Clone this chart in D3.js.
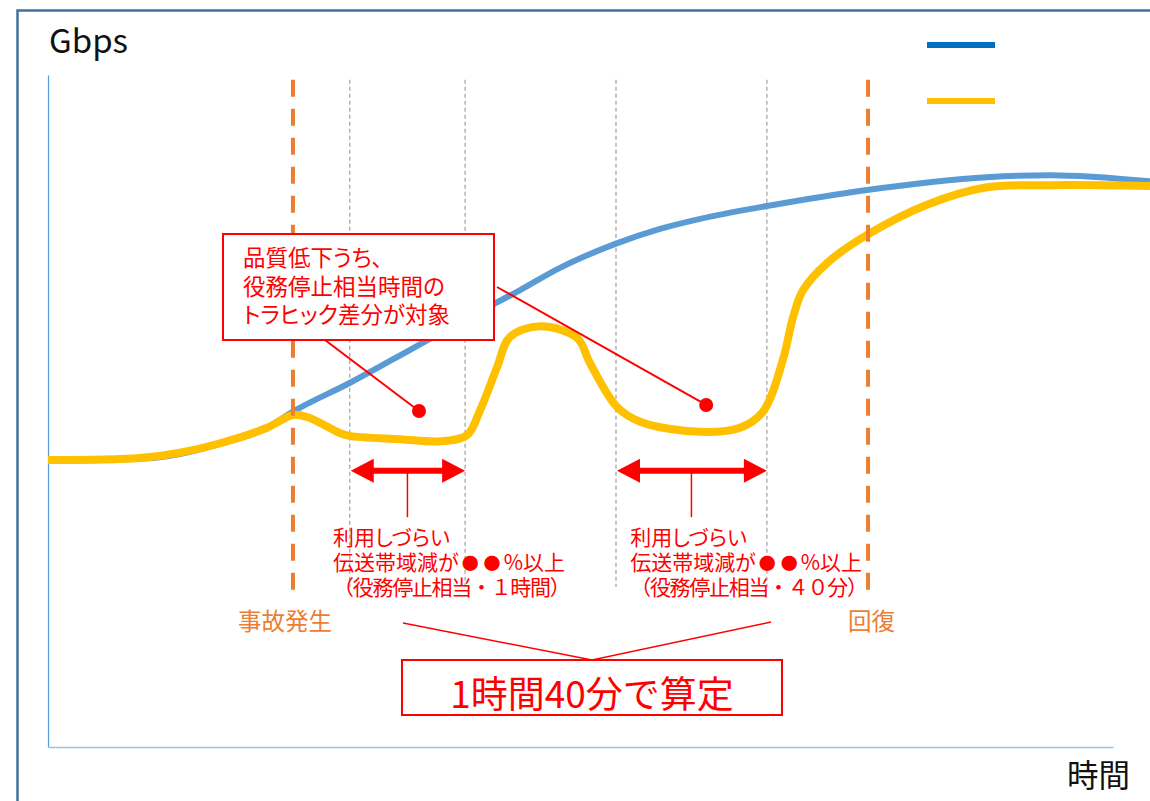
<!DOCTYPE html>
<html><head><meta charset="utf-8">
<script src="https://cdn.jsdelivr.net/npm/d3@7"></script>
<style>
html,body{margin:0;padding:0;background:#fff;}
svg{display:block;}
text{font-family:"Noto Sans CJK JP","Noto Sans",sans-serif;}
.palt{font-feature-settings:"palt";}
</style></head><body>
<svg id="chart" width="1150" height="801"></svg>
<script>
// Expected traffic without the incident (blue) – time in arbitrary units, Gbps relative
const expectedTime = [0, 25.9, 37.2, 48.5, 61.7, 69, 85.1, 102, 118, 133, 144.2, 160, 172.4, 183.7, 202.5, 230.7, 264.5, 282.3, 310.4];
const expectedGbps = [42.6, 42.9, 43.6, 45.1, 47.5, 49.9, 54.2, 59.1, 63.8, 68.0, 71.3, 74.9, 77.1, 78.6, 80.5, 82.9, 84.8, 85.1, 84.2];

// Actual traffic during the incident (yellow)
const actualTime = [0, 25.9, 37.2, 48.5, 61.7, 69, 73, 82.3, 84.8, 99.2, 110.4, 118, 121.7, 126.5, 130.1, 138.6, 149, 152.7, 160.3, 166.8, 183.7, 194.9, 201.4, 207, 209.9, 212.7, 219.4, 230.7, 247.6, 264.5, 282.3, 310.4];
const actualGbps = [42.7, 43.0, 43.8, 45.2, 47.5, 49.4, 49.1, 46.7, 46.3, 45.8, 45.5, 46.4, 50.1, 56.5, 61.0, 62.6, 60.9, 57.1, 50.6, 48.4, 46.9, 47.5, 49.9, 57.6, 64.0, 68.0, 72.0, 76.2, 80.7, 83.3, 83.6, 83.5];

// Event times
const incidentTime = 69;
const recoveryTime = 231;
const degradedSpans = [[85, 117.5], [160, 202.5]];
const spanLabelTime = [80.3, 164];
const spanDurations = ["１時間", "４０分"];
const calloutDots = [[104.5, 50.0], [185.4, 50.9]];

const svg = d3.select("#chart");
const x = d3.scaleLinear().domain([0, 300]).range([48, 1113]);
const y = d3.scaleLinear().domain([0, 100]).range([747, 75]);

const RED = "#ff0000", ORANGE = "#ed7d31";

// outer frame
svg.append("rect").attr("x", 17.5).attr("y", 10.5).attr("width", 1200).attr("height", 900)
  .attr("fill", "none").attr("stroke", "#41719c").attr("stroke-width", 2.5);

// axes (lines only)
const yAxis = svg.append("g").attr("transform", `translate(${x(0)},0)`)
  .call(d3.axisLeft(y).tickValues([]).tickSizeOuter(0));
yAxis.select(".domain").attr("stroke", "#5b9bd5").attr("stroke-width", 1.2);
const xAxis = svg.append("g").attr("transform", `translate(0,${y(0)})`)
  .call(d3.axisBottom(x).tickValues([]).tickSizeOuter(0));
xAxis.select(".domain").attr("stroke", "#9dc3e6").attr("stroke-width", 1.5);

// grey boundaries of the degraded spans
const greyTop = 99.3, greyBottom = 23.8;
degradedSpans.flat().forEach(t => {
  svg.append("line").attr("x1", x(t)).attr("x2", x(t)).attr("y1", y(greyTop)).attr("y2", y(greyBottom))
    .attr("stroke", "#a6a6a6").attr("stroke-width", 1.3).attr("stroke-dasharray", "4,3");
});

// traffic curves
svg.append("path")
  .attr("d", d3.line().curve(d3.curveMonotoneX)(expectedTime.map((t, i) => [x(t), y(expectedGbps[i])])))
  .attr("fill", "none").attr("stroke", "#5b9bd5").attr("stroke-width", 6);
svg.append("path")
  .attr("d", d3.line().curve(d3.curveCatmullRom.alpha(0.5))(actualTime.map((t, i) => [x(t), y(actualGbps[i])])))
  .attr("fill", "none").attr("stroke", "#ffc000").attr("stroke-width", 8);

// incident / recovery markers
const orangeBottom = 23.4;
[incidentTime, recoveryTime].forEach(t => {
  svg.append("line").attr("x1", x(t)).attr("x2", x(t)).attr("y1", y(greyTop)).attr("y2", y(orangeBottom))
    .attr("stroke", ORANGE).attr("stroke-width", 4).attr("stroke-dasharray", "17,12");
});
svg.append("text").attr("x", x(incidentTime) - 55).attr("y", 630).attr("fill", ORANGE)
  .attr("font-size", 23.5).text("事故発生");
svg.append("text").attr("x", x(recoveryTime) - 20).attr("y", 630).attr("fill", ORANGE)
  .attr("font-size", 23.5).text("回復");

// legend swatches
svg.append("line").attr("x1", 927).attr("x2", 995).attr("y1", 45).attr("y2", 45)
  .attr("stroke", "#0070c0").attr("stroke-width", 6);
svg.append("line").attr("x1", 927).attr("x2", 995).attr("y1", 101).attr("y2", 101)
  .attr("stroke", "#ffc000").attr("stroke-width", 6);

// axis titles
svg.append("text").attr("x", 49).attr("y", 53).attr("font-family", "'Noto Sans',sans-serif")
  .attr("font-size", 33).attr("fill", "#111").text("Gbps");
svg.append("text").attr("x", 1067).attr("y", 787).attr("font-size", 31.5).attr("fill", "#111").text("時間");

// double-headed arrows over the degraded spans
const arrowGbps = 41.1, stemGbps = 34.2;
function doubleArrow(x0, x1, yy) {
  const hl = 23, hh = 12, sh = 3;
  return `M${x0},${yy} L${x0 + hl},${yy - hh} L${x0 + hl},${yy - sh} L${x1 - hl},${yy - sh} L${x1 - hl},${yy - hh}
          L${x1},${yy} L${x1 - hl},${yy + hh} L${x1 - hl},${yy + sh} L${x0 + hl},${yy + sh} L${x0 + hl},${yy + hh} Z`;
}
degradedSpans.forEach((s, i) => {
  const x0 = x(s[0]), x1 = x(s[1]), mid = (x0 + x1) / 2;
  svg.append("path").attr("d", doubleArrow(x0 + 1, x1, y(arrowGbps))).attr("fill", RED);
  svg.append("line").attr("x1", mid).attr("x2", mid).attr("y1", y(arrowGbps)).attr("y2", y(stemGbps))
    .attr("stroke", RED).attr("stroke-width", 1.5);
  const tx = x(spanLabelTime[i]);
  const g = svg.append("g").attr("fill", RED).attr("font-size", 21);
  g.append("text").attr("class", "palt").attr("x", tx).attr("y", 545).text("利用しづらい");
  const l2 = g.append("text").attr("class", "palt").attr("x", tx).attr("y", 570);
  l2.append("tspan").text("伝送帯域減が");
  l2.append("tspan").attr("font-size", 17).attr("dx", 3).attr("letter-spacing", 5).text("●●");
  l2.append("tspan").attr("dx", -2).text("%以上");
  g.append("text").attr("x", tx).attr("y", 595).attr("letter-spacing", -1.3)
    .text(`（役務停止相当・${spanDurations[i]}）`);
});

// callout box with leader lines to the two gaps
const box = {x: 223, y: 234, w: 271, h: 106};
svg.append("line").attr("x1", 325).attr("y1", box.y + box.h)
  .attr("x2", x(calloutDots[0][0])).attr("y2", y(calloutDots[0][1])).attr("stroke", RED).attr("stroke-width", 2);
svg.append("line").attr("x1", box.x + box.w + 3).attr("y1", 287)
  .attr("x2", x(calloutDots[1][0])).attr("y2", y(calloutDots[1][1])).attr("stroke", RED).attr("stroke-width", 2);
calloutDots.forEach(d => svg.append("circle").attr("cx", x(d[0])).attr("cy", y(d[1])).attr("r", 7).attr("fill", RED));
svg.append("rect").attr("x", box.x).attr("y", box.y).attr("width", box.w).attr("height", box.h)
  .attr("fill", "#fff").attr("stroke", RED).attr("stroke-width", 2);
["品質低下うち、", "役務停止相当時間の", "トラヒック差分が対象"].forEach((s, i) =>
  svg.append("text").attr("class", "palt").attr("fill", RED).attr("font-size", 22.5)
    .attr("x", 243).attr("y", 266 + i * 28.5).text(s));

// total box
const total = {x: 402, y: 660, w: 380, h: 55};
const apex = total.x + total.w / 2;
svg.append("polyline").attr("points", `403,623 ${apex},${total.y} 771,622`)
  .attr("fill", "none").attr("stroke", RED).attr("stroke-width", 1.5);
svg.append("rect").attr("x", total.x).attr("y", total.y).attr("width", total.w).attr("height", total.h)
  .attr("fill", "#fff").attr("stroke", RED).attr("stroke-width", 2);
svg.append("text").attr("x", apex).attr("y", 708).attr("text-anchor", "middle")
  .attr("fill", RED).attr("font-size", 37).text("1時間40分で算定");
</script>
</body></html>
